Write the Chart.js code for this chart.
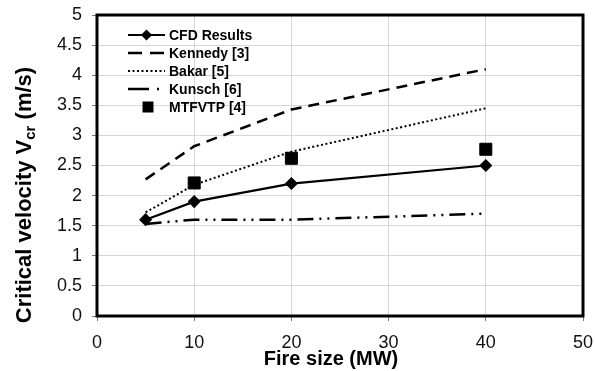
<!DOCTYPE html>
<html>
<head>
<meta charset="utf-8">
<script src="https://cdn.jsdelivr.net/npm/chart.js@4/dist/chart.umd.min.js"></script>
<style>
  html, body { margin: 0; padding: 0; background: #fff; }
  #wrap { width: 595px; height: 371px; }
</style>
</head>
<body>
<div id="wrap"><canvas id="chart" width="595" height="371"></canvas></div>
<script>
// values
const fireSize = [5, 10, 20, 40];
const cfd = [1.6, 1.9, 2.2, 2.5];
const kennedy = [2.27, 2.82, 3.43, 4.1];
const bakar = [1.72, 2.18, 2.73, 3.45];
const kunsch = [1.53, 1.6, 1.6, 1.7];
const mtfvtpSize = [10, 20, 40];
const mtfvtp = [2.21, 2.62, 2.77];

const xTitle = "Fire size (MW)";
const yTitle = ["Critical velocity V", "cr", " (m/s)"];
const FONT = "'Liberation Sans', Arial, sans-serif";

function pts(xs, ys) {
  return xs.map((x, i) => ({ x: x, y: ys[i] }));
}

const datasets = [
  { label: "CFD Results", data: pts(fireSize, cfd), showLine: true, borderColor: "#000", backgroundColor: "#000",
    borderWidth: 2.2, pointStyle: "rectRot", pointRadius: 5, legendDash: [] },
  { label: "Kennedy [3]", data: pts(fireSize, kennedy), showLine: true, borderColor: "#000",
    borderWidth: 2.5, borderDash: [11, 7], pointRadius: 0, legendDash: [14, 8] },
  { label: "Bakar [5]", data: pts(fireSize, bakar), showLine: true, borderColor: "#000",
    borderWidth: 2, borderDash: [2, 2.5], pointRadius: 0, legendDash: [2, 2.5] },
  { label: "Kunsch [6]", data: pts(fireSize, kunsch), showLine: true, borderColor: "#000",
    borderWidth: 2.5, borderDash: [16, 6, 2, 6, 2, 6], pointRadius: 0, legendDash: [21, 8, 2, 8] },
  { label: "MTFVTP [4]", data: pts(mtfvtpSize, mtfvtp), showLine: false, borderColor: "#000", backgroundColor: "#000",
    pointStyle: "rect", pointRadius: 8.5, noLine: true }
];

// legend, axis titles and frame
const decor = {
  id: "decor",
  afterDraw(chart) {
    const ctx = chart.ctx;
    const a = chart.chartArea;
    ctx.save();
    ctx.strokeStyle = "#000";
    ctx.lineWidth = 3;
    ctx.setLineDash([]);
    ctx.strokeRect(a.left, a.top, a.right - a.left, a.bottom - a.top);

    // legend
    const lx0 = 128, lx1 = 165, tx = 169;
    let ly = 35;
    ctx.font = "bold 14px " + FONT;
    ctx.textBaseline = "middle";
    ctx.textAlign = "left";
    datasets.forEach(ds => {
      if (!ds.noLine) {
        ctx.beginPath();
        ctx.setLineDash(ds.legendDash);
        ctx.lineWidth = ds.borderWidth;
        ctx.moveTo(lx0, ly);
        ctx.lineTo(lx1, ly);
        ctx.stroke();
        ctx.setLineDash([]);
      }
      if (ds.pointRadius > 0) {
        Chart.helpers.drawPoint(ctx, { pointStyle: ds.pointStyle, radius: ds.noLine ? 6 : 4,
          borderWidth: 1, rotation: 0 }, ds.noLine ? 148 : (lx0 + lx1) / 2, ly);
        ctx.fillStyle = "#000";
        ctx.fill();
      }
      ctx.fillStyle = "#000";
      ctx.fillText(ds.label, tx, ly + 1);
      ly += 18;
    });

    // x title
    ctx.font = "bold 20px " + FONT;
    ctx.textAlign = "center";
    ctx.fillText(xTitle, 331, 359);

    // y title with subscript
    ctx.translate(25, 195);
    ctx.rotate(-Math.PI / 2);
    const big = "bold 22px " + FONT, small = "bold 15px " + FONT;
    ctx.font = big;
    const w1 = ctx.measureText(yTitle[0]).width;
    const w3 = ctx.measureText(yTitle[2]).width;
    ctx.font = small;
    const w2 = ctx.measureText(yTitle[1]).width;
    let x = -(w1 + w2 + w3) / 2;
    ctx.textAlign = "left";
    ctx.font = big;
    ctx.fillText(yTitle[0], x, 0);
    x += w1;
    ctx.font = small;
    ctx.fillText(yTitle[1], x, 6);
    x += w2;
    ctx.font = big;
    ctx.fillText(yTitle[2], x, 0);
    ctx.restore();
  }
};

new Chart(document.getElementById("chart"), {
  type: "scatter",
  data: { datasets: datasets },
  options: {
    responsive: false,
    animation: false,
    layout: { padding: { top: 15, right: 12, left: 0, bottom: 0 } },
    plugins: { legend: { display: false }, tooltip: { enabled: false } },
    scales: {
      x: {
        type: "linear", min: 0, max: 50,
        ticks: { stepSize: 10, color: "#111", padding: 11, font: { family: FONT, size: 18 } },
        grid: { color: "#d6d6d6", tickColor: "#777", tickLength: 5 },
        border: { display: false },
        afterFit(s) { s.height = 55; s.paddingLeft = 0; s.paddingRight = 0; }
      },
      y: {
        min: 0, max: 5,
        ticks: { stepSize: 0.5, color: "#111", padding: 10, font: { family: FONT, size: 18 },
          callback: v => String(+v.toFixed(1)) },
        grid: { color: "#d6d6d6", tickColor: "#777", tickLength: 5 },
        border: { display: false },
        afterFit(s) { s.width = 97; s.paddingTop = 0; s.paddingBottom = 0; }
      }
    }
  },
  plugins: [decor]
});
</script>
</body>
</html>
